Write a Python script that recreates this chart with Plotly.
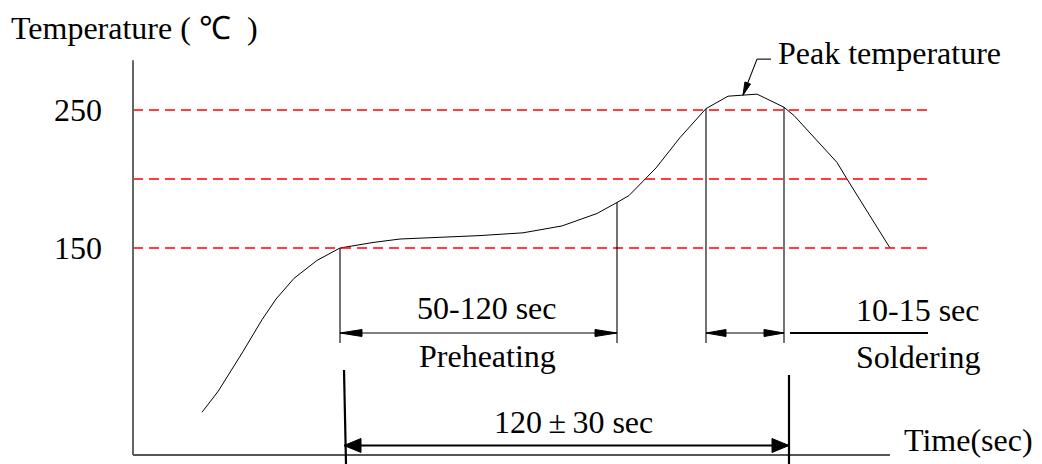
import numpy as np
import plotly.graph_objects as go

# ---------------- data ----------------
# reflow profile (time in arbitrary units, temperature in °C)
time_pts = [69, 85, 110, 129, 143, 161, 184, 207, 240, 267, 347, 390, 429, 464,
            484, 496, 523, 547, 573, 595, 624, 651, 661, 704, 714, 757]
temp_pts = [31, 46, 75, 98, 113, 128, 141, 150, 154, 156.5, 159, 161, 166, 175,
            183, 188, 208, 230, 251, 260, 261.5, 252, 246, 212, 200, 150]

ref_temps = [150, 200, 250]          # dashed reference levels
tick_vals = [250, 150]
tick_labels = ["250", "150"]

preheat = [207, 484]                  # 50-120 sec window
soldering = [573, 651]                # 10-15 sec window
total = [211, 656]                    # 120±30 sec window
peak_time = 610

x_max = 757
y_max = 286
dash_end = 797

# ---------------- geometry helpers ----------------
# page has an 8px body margin, so the figure is sized to fit the window
W, H = 1034, 456
XR = [-125, 909]
YR = [-9 / 1.38, 447 / 1.38]
PX_X = W / (XR[1] - XR[0])
PX_Y = H / (YR[1] - YR[0])

FONT = dict(family="Liberation Serif, Times New Roman, serif", size=32, color="black")

fig = go.Figure()
shapes = []
annotations = []


def line(x0, y0, x1, y1, width=1, color="black", dash="solid"):
    shapes.append(dict(type="line", xref="x", yref="y", x0=x0, y0=y0, x1=x1, y1=y1,
                       line=dict(color=color, width=width, dash=dash)))


def head(tx, ty, fx, fy, length, half):
    """filled arrowhead with tip at (tx,ty) pointing away from (fx,fy)"""
    dx = (tx - fx) * PX_X
    dy = (ty - fy) * PX_Y
    n = np.hypot(dx, dy)
    ux, uy = dx / n, dy / n
    bx, by = -ux * length, -uy * length
    px, py = -uy * half, ux * half
    p1 = (tx + (bx + px) / PX_X, ty + (by + py) / PX_Y)
    p2 = (tx + (bx - px) / PX_X, ty + (by - py) / PX_Y)
    path = f"M {tx},{ty} L {p1[0]},{p1[1]} L {p2[0]},{p2[1]} Z"
    shapes.append(dict(type="path", xref="x", yref="y", path=path,
                       fillcolor="black", line=dict(color="black", width=1)))


def text(x, y, s, xanchor="center"):
    annotations.append(dict(x=x, y=y, xref="x", yref="y", text=s, showarrow=False,
                            xanchor=xanchor, yanchor="middle", font=FONT))


# dashed reference levels
for t in ref_temps:
    line(0, t, dash_end, t, width=1.4, color="#ff0000", dash="10px,6px")

# axes
line(0, 0, 0, y_max, width=2, color="#666666")
line(0, 0, x_max, 0, width=2, color="#555555")

# profile curve
fig.add_trace(go.Scatter(x=time_pts, y=temp_pts, mode="lines",
                         line=dict(color="black", width=1), hoverinfo="skip",
                         showlegend=False))

# dimension level (px offsets converted to data)
dim_y = 122 / PX_Y
ext_bottom = 112 / PX_Y

# preheat / soldering extension lines
for tx in preheat + soldering:
    top = float(np.interp(tx, time_pts, temp_pts))
    line(tx, top, tx, ext_bottom, width=1.1)

# preheat arrow
line(preheat[0], dim_y, preheat[1], dim_y, width=1.2)
head(preheat[0], dim_y, preheat[1], dim_y, 22, 3.5)
head(preheat[1], dim_y, preheat[0], dim_y, 22, 3.5)

# soldering arrow
line(soldering[0], dim_y, soldering[1], dim_y, width=1.2)
head(soldering[0], dim_y, soldering[1], dim_y, 20, 3.5)
head(soldering[1], dim_y, soldering[0], dim_y, 20, 3.5)
line(soldering[1] + 6, dim_y, 795, dim_y, width=2)

# total window (bold)
tot_y = 9.5 / PX_Y
line(total[0], 85 / PX_Y, total[0] + 2, YR[0], width=2.2)
line(total[1], 80 / PX_Y, total[1], YR[0], width=2.2)
line(total[0], tot_y, total[1], tot_y, width=2.2)
head(total[0], tot_y, total[1], tot_y, 17, 7)
head(total[1], tot_y, total[0], tot_y, 17, 7)

# peak temperature leader
peak_top = float(np.interp(peak_time, time_pts, temp_pts))
lead_y = peak_top + 36 / PX_Y
line(638, lead_y, 624, lead_y, width=1.1)
line(624, lead_y, peak_time, peak_top, width=1.1)
head(peak_time, peak_top, 624, lead_y, 13, 3)

# texts
text(-124, 427 / PX_Y, "Temperature ( ℃\u2002)", xanchor="left")
for v, s in zip(tick_vals, tick_labels):
    text(-29, v, s, xanchor="right")
text(643, 402 / PX_Y, "Peak temperature", xanchor="left")
text(354, 147 / PX_Y, "50-120 sec")
text(354, 99 / PX_Y, "Preheating")
text(440, 33 / PX_Y, "120\u2009±\u200930 sec")
text(785, 145 / PX_Y, "10-15 sec")
text(785, 98 / PX_Y, "Soldering")
text(835, 15 / PX_Y, "Time(sec)")

fig.update_layout(
    width=W, height=H, autosize=False,
    margin=dict(l=0, r=0, t=0, b=0, pad=0),
    paper_bgcolor="white", plot_bgcolor="white",
    xaxis=dict(range=XR, visible=False, fixedrange=True),
    yaxis=dict(range=YR, visible=False, fixedrange=True),
    shapes=shapes, annotations=annotations, showlegend=False,
)

fig.write_html("out.html")
